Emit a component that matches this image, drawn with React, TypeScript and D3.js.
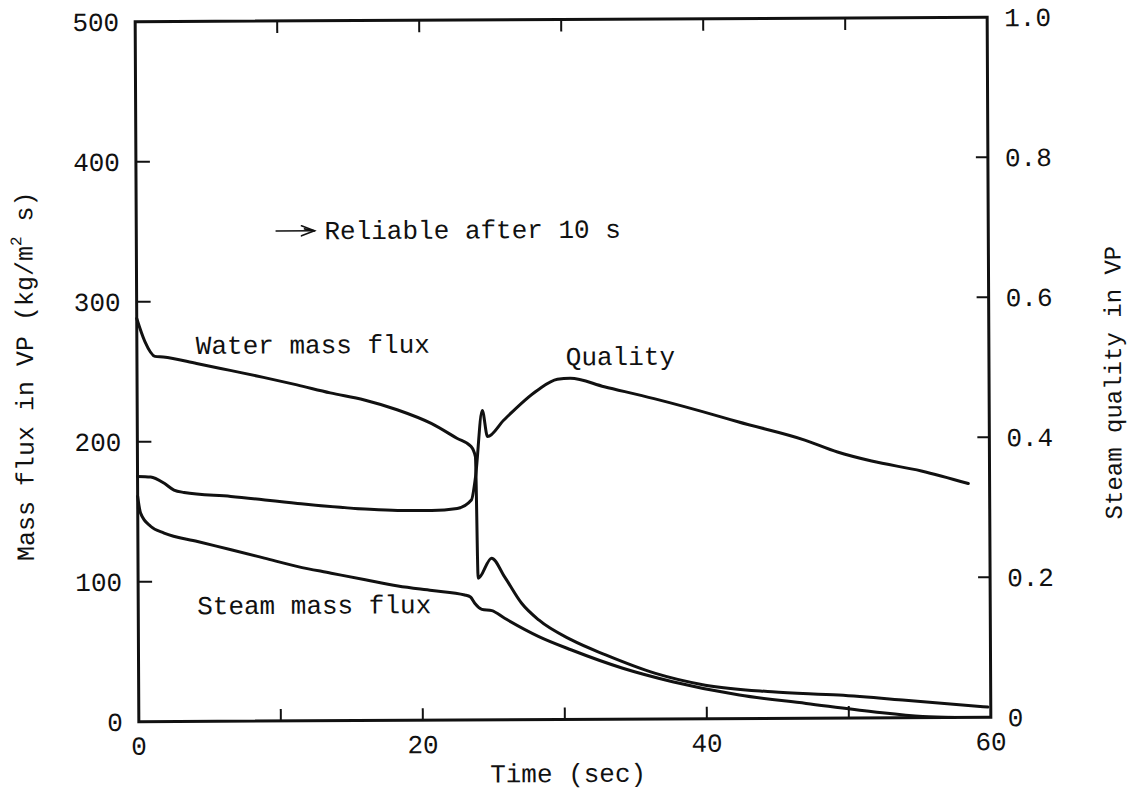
import React from 'react';
import * as d3 from 'd3';

// Axis ticks
const timeLabelTicks = [0, 20, 40, 60];
const timeTickMarks = [10, 20, 30, 40, 50];
const fluxLabelTicks = [0, 100, 200, 300, 400, 500];
const fluxTickMarks = [100, 200, 300, 400];
const qualityLabelTicks = [0, 0.2, 0.4, 0.6, 0.8, 1.0];
const qualityTickLabels = ['0', '0.2', '0.4', '0.6', '0.8', '1.0'];
const qualityTickMarks = [0.2, 0.4, 0.6, 0.8];

// Water mass flux in VP (kg/m2 s) vs time (s)
const waterTime = [0, 0.56, 1.27, 1.85, 4.2, 6.56, 8.9, 11.26, 13.6, 16, 18.3, 20.7, 22.5, 23.5, 23.8, 23.95, 24.9, 25.8, 27, 28.2, 30.5, 32.9, 36.4, 39.9, 44.6, 49.3, 54, 59.8];
const waterFlux = [288, 271.6, 260.9, 260.4, 255.7, 250.6, 245.5, 240, 234.2, 229, 221.9, 212, 201.3, 195.3, 188, 101.2, 115.5, 102.3, 83.2, 71.2, 56.8, 46, 32.6, 24, 19, 16.4, 12.5, 7.3];

// Steam quality in VP vs time (s)
const qualityTime = [0, 0.92, 1.85, 2.56, 3.27, 6.56, 11.26, 16, 18.3, 20.7, 22.5, 23.5, 23.8, 24.3, 24.66, 25.8, 28.2, 29.6, 30.5, 32.9, 36.4, 41.1, 42.3, 47, 49.3, 51.7, 55.2, 58.5];
const qualityValue = [0.3505, 0.3494, 0.3408, 0.3307, 0.3272, 0.3212, 0.3107, 0.3021, 0.2998, 0.2995, 0.3023, 0.3142, 0.3472, 0.4421, 0.4047, 0.428, 0.4707, 0.486, 0.4874, 0.4751, 0.4577, 0.4312, 0.424, 0.3974, 0.3801, 0.3669, 0.3524, 0.3341];

// Steam mass flux in VP (kg/m2 s) vs time (s)
const steamTime = [0, 0.2, 0.92, 1.85, 4.2, 6.56, 8.9, 11.26, 13.6, 16, 18.3, 20.7, 23, 23.4, 23.7, 24.2, 24.9, 25.8, 28.2, 30.5, 34.1, 37.6, 42.3, 47, 51.7, 55.2, 57.5];
const steamFlux = [161, 149, 139.4, 134.7, 128.5, 122.5, 116.4, 110.2, 105.4, 100.5, 96, 92.6, 89.3, 87.8, 83.4, 79, 78, 72.5, 59.3, 49.6, 36.4, 26.6, 16.8, 10.6, 4.4, 0.8, 0];

const W = 1135;
const H = 789;
const frame = { left: 137, right: 989, top: 19.5, bottom: 719.5 };
const FONT = "'Liberation Mono', 'DejaVu Sans Mono', monospace";
const INK = '#111';

export default function App() {
  const x = d3.scaleLinear().domain([0, 60]).range([frame.left, frame.right]);
  const yL = d3.scaleLinear().domain([0, 500]).range([frame.bottom, frame.top]);
  const yR = d3.scaleLinear().domain([0, 1]).range([frame.bottom, frame.top]);

  const fluxLine = d3
    .line<[number, number]>()
    .x((d) => x(d[0]))
    .y((d) => yL(d[1]))
    .curve(d3.curveMonotoneX);
  const qualityLine = d3
    .line<[number, number]>()
    .x((d) => x(d[0]))
    .y((d) => yR(d[1]))
    .curve(d3.curveMonotoneX);

  const water = waterTime.map((t, i) => [t, waterFlux[i]] as [number, number]);
  const steam = steamTime.map((t, i) => [t, steamFlux[i]] as [number, number]);
  const quality = qualityTime.map((t, i) => [t, qualityValue[i]] as [number, number]);

  const cx = (frame.left + frame.right) / 2;
  const cy = (frame.top + frame.bottom) / 2;
  const tick = 12;

  // annotation arrow
  const ax0 = x(9.85);
  const ax1 = x(12.55);
  const ay = yL(350);

  return (
    <svg
      width={W}
      height={H}
      viewBox={`0 0 ${W} ${H}`}
      style={{ position: 'absolute', left: 0, top: 0, background: '#fff' }}
      fontFamily={FONT}
    >
      <rect width={W} height={H} fill="#fff" />
      <g transform={`rotate(-0.3 ${cx} ${cy})`}>
        {/* frame */}
        <rect
          x={frame.left}
          y={frame.top}
          width={frame.right - frame.left}
          height={frame.bottom - frame.top}
          fill="none"
          stroke={INK}
          strokeWidth={3}
        />
        {/* bottom and top ticks */}
        {timeTickMarks.map((t) => (
          <g key={`t${t}`}>
            <line x1={x(t)} x2={x(t)} y1={frame.bottom} y2={frame.bottom - tick} stroke={INK} strokeWidth={2} />
            <line x1={x(t)} x2={x(t)} y1={frame.top} y2={frame.top + tick} stroke={INK} strokeWidth={2} />
          </g>
        ))}
        {/* left ticks */}
        {fluxTickMarks.map((v) => (
          <line key={`f${v}`} x1={frame.left} x2={frame.left + tick + 2} y1={yL(v)} y2={yL(v)} stroke={INK} strokeWidth={2} />
        ))}
        {/* right ticks */}
        {qualityTickMarks.map((q) => (
          <line key={`q${q}`} x1={frame.right} x2={frame.right - tick} y1={yR(q)} y2={yR(q)} stroke={INK} strokeWidth={2} />
        ))}

        {/* tick labels */}
        <g fontSize={26} fill={INK}>
          {timeLabelTicks.map((t) => (
            <text key={`tl${t}`} x={x(t)} y={frame.bottom + 33} textAnchor="middle">
              {t}
            </text>
          ))}
          {fluxLabelTicks.map((v) => (
            <text key={`fl${v}`} x={frame.left - 16} y={yL(v) + 9} textAnchor="end">
              {v}
            </text>
          ))}
          {qualityLabelTicks.map((q, i) => (
            <text key={`ql${q}`} x={frame.right + 17} y={yR(q) + 9} textAnchor="start">
              {qualityTickLabels[i]}
            </text>
          ))}
        </g>

        {/* axis titles */}
        <text x={cx + 3} y={782} fontSize={26} textAnchor="middle" fill={INK}>
          Time (sec)
        </text>
        <text
          transform={`translate(33 ${cy + 4}) rotate(-90)`}
          fontSize={25}
          textAnchor="middle"
          fill={INK}
        >
          Mass flux in VP (kg/m
          <tspan fontSize={16} dy={-11}>2</tspan>
          <tspan dy={11}> s)</tspan>
        </text>
        <text
          transform={`translate(1121 ${cy + 16}) rotate(-90)`}
          fontSize={24}
          textAnchor="middle"
          fill={INK}
        >
          Steam quality in VP
        </text>

        {/* curves */}
        <g fill="none" stroke={INK} strokeWidth={3} strokeLinejoin="round" strokeLinecap="round">
          <path d={fluxLine(water) ?? ''} />
          <path d={fluxLine(steam) ?? ''} />
          <path d={qualityLine(quality) ?? ''} />
        </g>

        {/* curve labels */}
        <g fontSize={26} fill={INK}>
          <text x={x(4.15)} y={yL(262.5)}>Water mass flux</text>
          <text x={x(4.15)} y={yL(76.5)}>Steam mass flux</text>
          <text x={x(30.2)} y={yL(253)}>Quality</text>
          <text x={x(13.25)} y={yL(344)}>Reliable after 10 s</text>
        </g>

        {/* arrow */}
        <g stroke={INK} strokeWidth={1.6} fill="none" strokeLinecap="round">
          <line x1={ax0} y1={ay} x2={ax1} y2={ay} />
          <path d={`M${ax1 - 13},${ay - 5} L${ax1},${ay} L${ax1 - 13},${ay + 5}`} />
          <path d={`M${ax1 - 10},${ay - 2} L${ax1},${ay}`} />
        </g>
      </g>
    </svg>
  );
}
